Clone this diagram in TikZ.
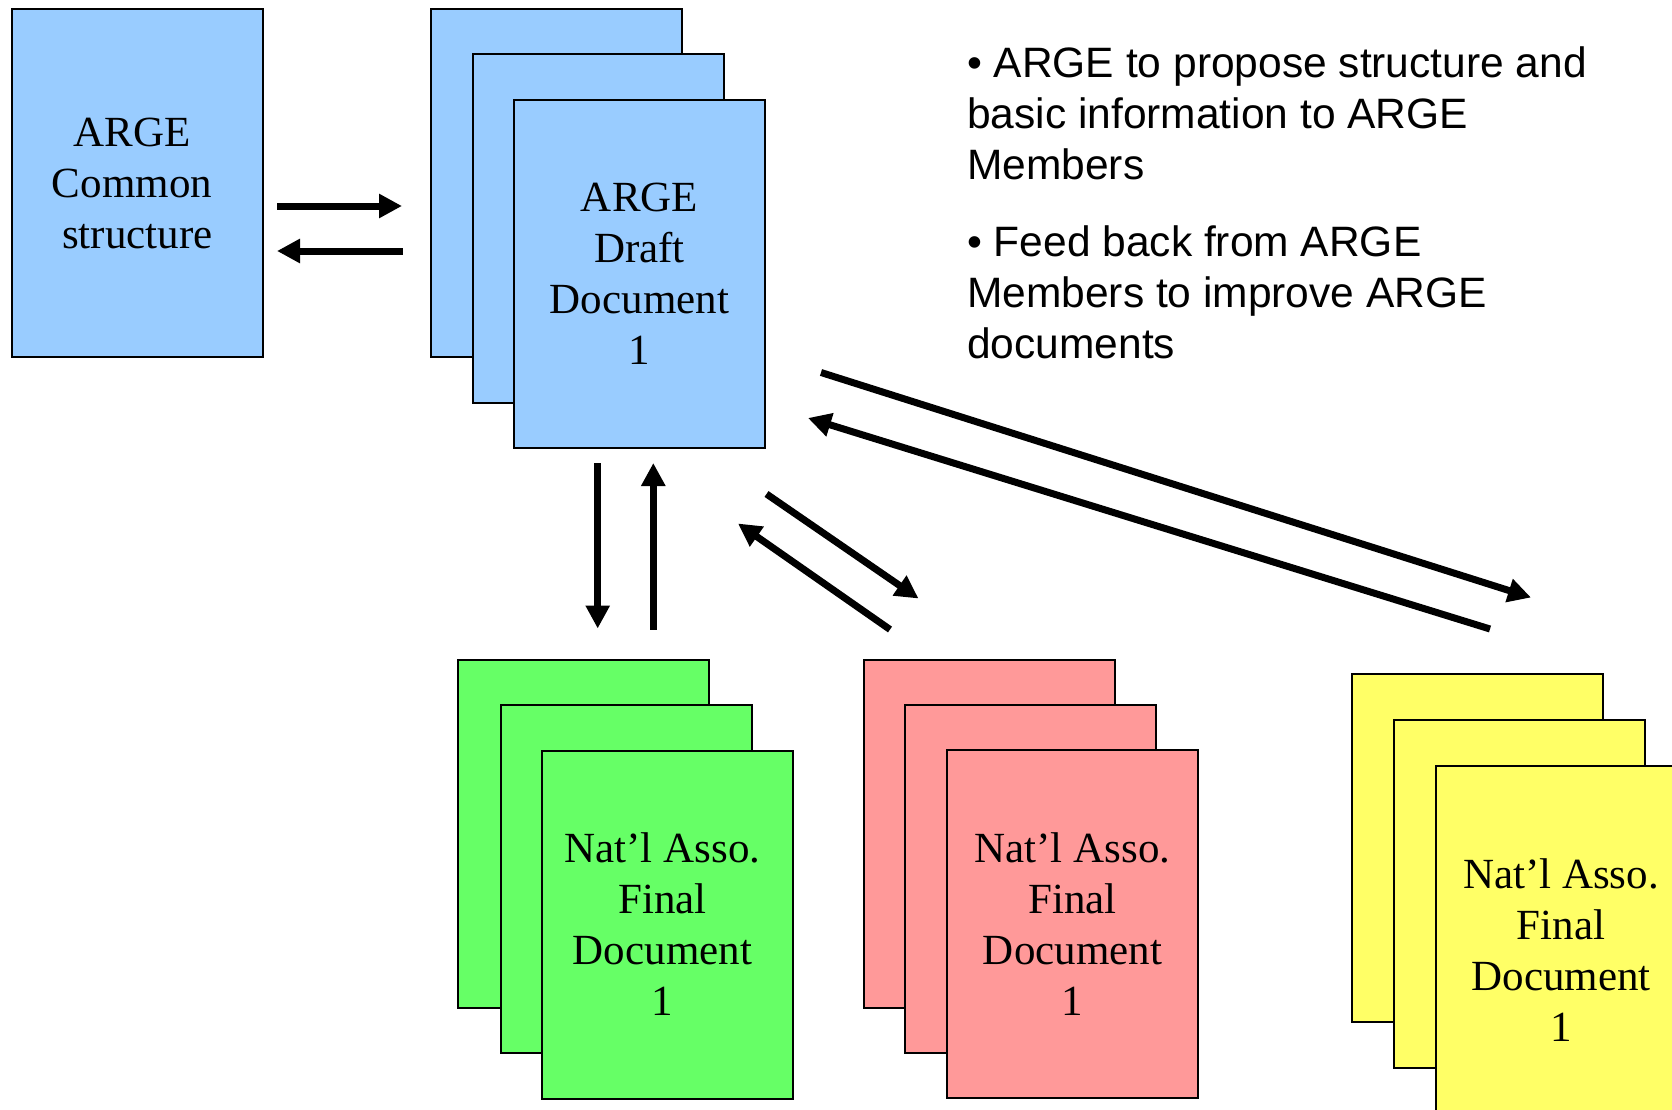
\documentclass[tikz,border=0pt]{standalone}
\usepackage{fontspec}
\setmainfont{Liberation Serif}
\newfontfamily\bulletfont{Liberation Sans}
\usetikzlibrary{arrows.meta}

\definecolor{argeblue}{RGB}{153,204,255}
\definecolor{natgreen}{RGB}{102,255,102}
\definecolor{natred}{RGB}{255,153,153}
\definecolor{natyellow}{RGB}{255,255,102}

\begin{document}
\begin{tikzpicture}[x=1pt,y=-1pt,
	pagetext/.style={inner sep=0pt,align=center,font=\fontsize{43}{51}\selectfont},
	page/.style={pagetext,draw,line width=2pt,minimum width=251pt,minimum height=348pt},
	flow/.style={line width=7pt,-{Triangle[length=23pt,width=23pt]}},
	bullets/.style={anchor=north west,inner sep=0pt,align=left,font=\bulletfont\fontsize{42.5}{51}\selectfont}]
	\useasboundingbox (0,0) rectangle (1672,1110);
	\clip (0,0) rectangle (1672,1110);
	% ARGE side
	\node[page,fill=argeblue] (common) at (137,183) {};
	\node[pagetext] (commonText) at ([xshift=-5pt]common.center) {ARGE\\Common\\\ structure};
	\node[page,fill=argeblue] (draftA) at (556,183) {};
	\node[page,fill=argeblue] (draftB) at (598,228.5) {};
	\node[page,fill=argeblue] (draft) at (639.5,274) {ARGE\\Draft\\Document\\1};
	% national associations
	\node[page,fill=natgreen] (greenA) at (583,834) {};
	\node[page,fill=natgreen] (greenB) at (626,879) {};
	\node[page,fill=natgreen] (green) at (667.5,924.5) {};
	\node[pagetext] (greenText) at ([xshift=-5pt]green.center) {Nat’l Asso.\\Final\\Document\\1};
	\node[page,fill=natred] (redA) at (989,834) {};
	\node[page,fill=natred] (redB) at (1030.5,879) {};
	\node[page,fill=natred] (red) at (1072.5,924) {Nat’l Asso.\\Final\\Document\\1};
	\node[page,fill=natyellow] (yellowA) at (1477,848) {};
	\node[page,fill=natyellow] (yellowB) at (1519,894) {};
	\node[page,fill=natyellow] (yellow) at (1561,939.5) {};
	\node[pagetext] (yellowText) at ([yshift=-11pt]yellow.center) {Nat’l Asso.\\Final\\Document\\1};
	% notes
	\node[bullets] (noteA) at (967,46.5) {• ARGE to propose structure and\\basic information to ARGE\\Members};
	\node[bullets] (noteB) at (967,225.5) {• Feed back from ARGE\\Members to improve ARGE\\documents};
	% arrow ends
	\coordinate (toDraftS) at (277,206);
	\coordinate (toDraftE) at (402,206);
	\coordinate (fromDraftS) at (402.5,251);
	\coordinate (fromDraftE) at (277,251);
	\coordinate (downS) at (597.7,463);
	\coordinate (downE) at (597.7,628.5);
	\coordinate (upS) at (653.3,629.5);
	\coordinate (upE) at (653.3,463);
	\coordinate (toRedS) at (766.5,494);
	\coordinate (toRedE) at (918.5,598.5);
	\coordinate (fromRedS) at (890,629.5);
	\coordinate (fromRedE) at (738,523.5);
	\coordinate (toYellowS) at (821,372.5);
	\coordinate (toYellowE) at (1531,597.5);
	\coordinate (fromYellowS) at (1490,629);
	\coordinate (fromYellowE) at (808,418);
	\draw[flow] (toDraftS) -- (toDraftE);
	\draw[flow] (fromDraftS) -- (fromDraftE);
	\draw[flow] (downS) -- (downE);
	\draw[flow] (upS) -- (upE);
	\draw[flow] (toRedS) -- (toRedE);
	\draw[flow] (fromRedS) -- (fromRedE);
	\draw[flow] (toYellowS) -- (toYellowE);
	\draw[flow] (fromYellowS) -- (fromYellowE);
\end{tikzpicture}
\end{document}
